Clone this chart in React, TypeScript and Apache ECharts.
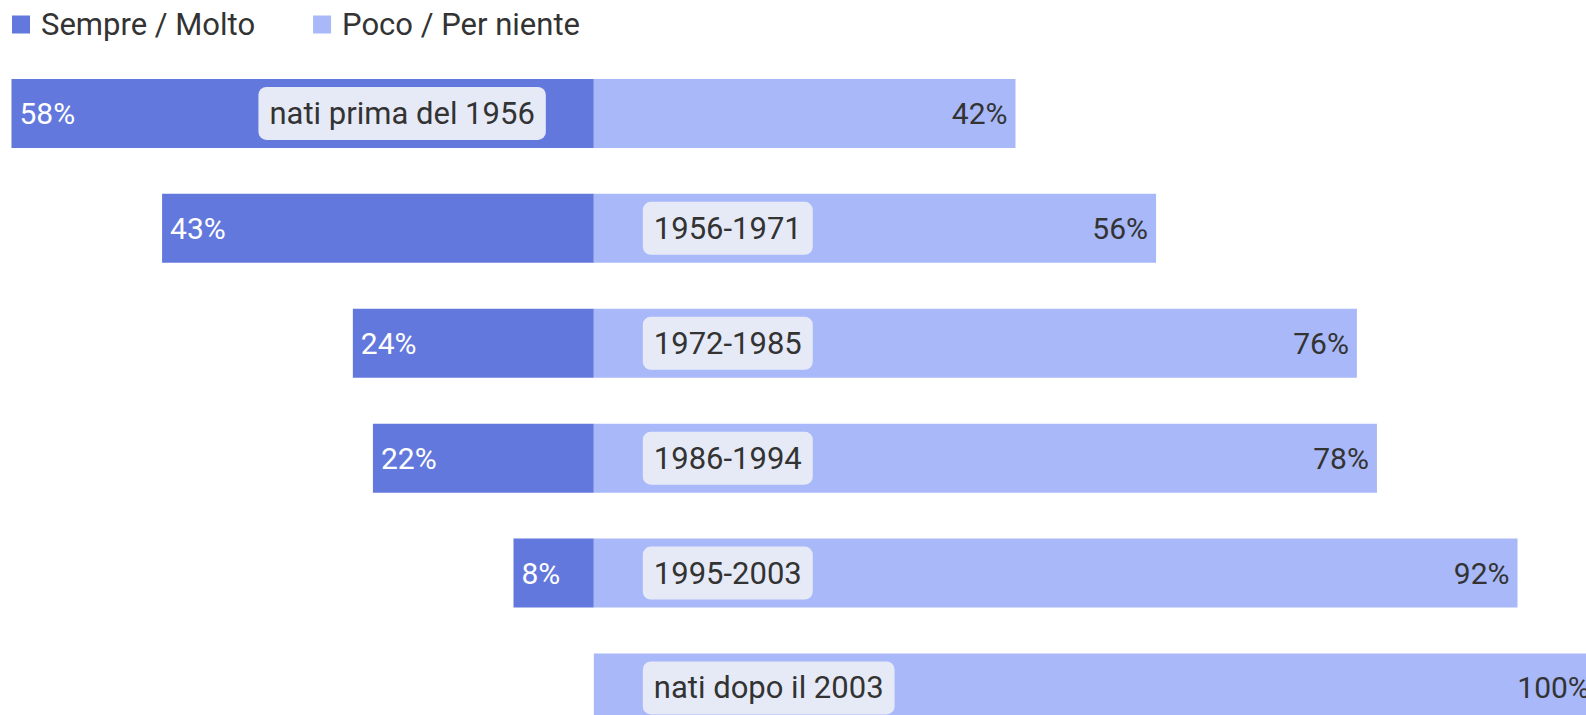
import React, { useEffect, useRef } from "react";
import * as echarts from "echarts";

const categories = [
  "nati prima del 1956",
  "1956-1971",
  "1972-1985",
  "1986-1994",
  "1995-2003",
  "nati dopo il 2003",
];
const sempreMolto = [58, 43, 24, 22, 8, 0];
const pocoPerNiente = [42, 56, 76, 78, 92, 100];
const labelSide = ["left", "right", "right", "right", "right", "right"];
const seriesNames = ["Sempre / Molto", "Poco / Per niente"];

const FONT = "Roboto, 'Noto Sans', sans-serif";
const DARK = "#6378dc";
const LIGHT = "#a9b8f8";
const BOX = "#e6eaf7";
const TEXT = "#333333";

export default function App() {
  const ref = useRef<HTMLDivElement>(null);

  useEffect(() => {
    document.body.style.margin = "0";
    const chart = echarts.init(ref.current!, null, { renderer: "svg" });
    const option: any = {
      animation: false,
      textStyle: { fontFamily: FONT },
      legend: {
        left: 12,
        top: 9,
        padding: 0,
        icon: "rect",
        itemWidth: 18,
        itemHeight: 18,
        itemGap: 58,
        textStyle: {
          fontFamily: FONT,
          fontSize: 31,
          color: TEXT,
          padding: [0, 0, 0, 6],
        },
        data: seriesNames,
      },
      grid: { left: 1.44, top: 56, width: 1596.4, height: 689.4 },
      xAxis: {
        type: "value",
        min: -59,
        max: 100,
        show: false,
      },
      yAxis: {
        type: "category",
        data: categories,
        inverse: true,
        axisLine: { show: false },
        axisTick: { show: false },
        axisLabel: { show: false },
        splitLine: { show: false },
      },
      series: [
        {
          name: seriesNames[0],
          type: "bar",
          stack: "total",
          barWidth: 69,
          itemStyle: { color: DARK },
          data: sempreMolto.map((v) => -v),
          label: {
            show: true,
            position: "insideLeft",
            distance: 8,
            color: "#ffffff",
            fontFamily: FONT,
            fontSize: 30,
            formatter: (p: any) => (p.value === 0 ? "" : Math.abs(p.value) + "%"),
          },
        },
        {
          name: seriesNames[1],
          type: "bar",
          stack: "total",
          barWidth: 69,
          itemStyle: { color: LIGHT },
          data: pocoPerNiente,
          label: {
            show: true,
            position: "insideRight",
            distance: 8,
            color: TEXT,
            fontFamily: FONT,
            fontSize: 30,
            formatter: (p: any) => (p.value === 0 ? "" : p.value + "%"),
          },
        },
        {
          type: "custom",
          z: 10,
          silent: true,
          data: categories.map((c, i) => [0, i]),
          renderItem: (params: any, api: any) => {
            const idx = params.dataIndex;
            const p = api.coord([0, idx]);
            const left = labelSide[idx] === "left";
            return {
              type: "text",
              x: p[0] + (left ? -48 : 49),
              y: p[1],
              style: {
                text: categories[idx],
                fontFamily: FONT,
                fontSize: 31,
                fill: TEXT,
                align: left ? "right" : "left",
                verticalAlign: "middle",
                backgroundColor: BOX,
                borderRadius: 8,
                padding: [11, 11, 11, 11],
              },
            };
          },
        },
      ],
    };
    chart.setOption(option);
    return () => chart.dispose();
  }, []);

  return (
    <div
      style={{
        position: "absolute",
        left: 0,
        top: 0,
        width: 1586,
        height: 715,
        overflow: "hidden",
      }}
    >
      <div ref={ref} style={{ width: 1620, height: 760 }} />
    </div>
  );
}
